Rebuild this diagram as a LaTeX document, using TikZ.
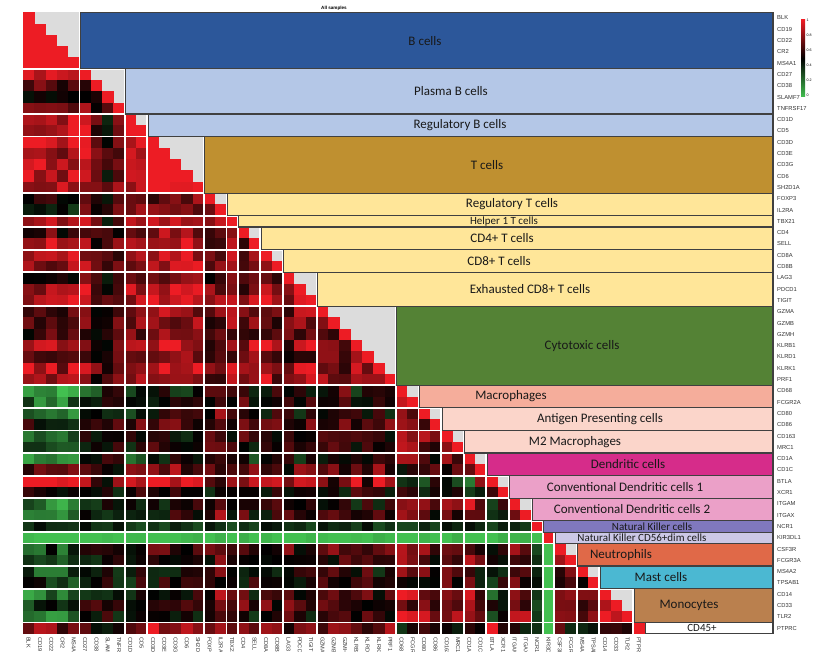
\documentclass[tikz,border=0pt]{standalone}
\usepackage{fontspec}
\setmainfont{Carlito}
\newfontfamily\arialfont{Liberation Sans}
\usetikzlibrary{positioning,calc}

\definecolor{hmred}{RGB}{237,28,36}
\definecolor{hmgreen}{RGB}{66,192,80}
\definecolor{hmgrey}{RGB}{220,220,220}
\definecolor{bcol}{RGB}{44,87,154}
\definecolor{pbcol}{RGB}{180,199,231}
\definecolor{tcol}{RGB}{191,144,48}
\definecolor{ycol}{RGB}{255,230,153}
\definecolor{cytcol}{RGB}{84,130,53}
\definecolor{maccol}{RGB}{245,173,155}
\definecolor{apccol}{RGB}{251,213,202}
\definecolor{dccol}{RGB}{214,44,138}
\definecolor{cdccol}{RGB}{235,160,200}
\definecolor{nkcol}{RGB}{128,120,190}
\definecolor{nkdcol}{RGB}{204,200,230}
\definecolor{neucol}{RGB}{224,105,72}
\definecolor{mastcol}{RGB}{75,184,210}
\definecolor{monocol}{RGB}{186,128,78}

\tikzstyle{glabel}=[anchor=west, inner sep=0pt, font=\arialfont\fontsize{5.8}{6}\selectfont, text=black!80]
\tikzstyle{blabel}=[anchor=west, rotate=-90, inner sep=0pt, font=\arialfont\fontsize{5.6}{6}\selectfont, text=black!80]
\tikzstyle{banner}=[draw=black!75, line width=1.1pt]
\tikzstyle{btext}=[inner sep=0pt, font=\fontsize{13}{14}\selectfont, text=black!90]
\tikzstyle{bsmall}=[font=\fontsize{11}{12}\selectfont]
\tikzstyle{sepline}=[white, line width=1.8pt]
\tikzstyle{legtext}=[anchor=west, inner sep=0pt, font=\arialfont\fontsize{3.6}{4}\selectfont]

% heatmap origin and cell size
\def\hmx{23}
\def\hmy{12.3}
\def\hmc{11.3}

% lymphoid and B/myeloid loadings per gene
\def\FA{{0.5,0.5,0.5,0.35,0.5, 0.55,0.2,0.1,0.3, 0.5,0.6, 0.65,0.65,0.65,0.6,0.6,
 0.3,0.4, 0.6, 0.35,0.55, 0.55,0.45, 0.3,0.55,0.6, 0.4,0.35,0.35,0.55,0.3,0.55,0.5,
 0,0.1, 0.05,0.25, 0.1,0.1, 0,0.3, 0.6,0.05, 0.05,0.1, 0,-0.3, 0.2,0.1, 0.05,0.05,
 0.1,0.25,0.1, 0.45}}
\def\FB{{0.55,0.55,0.5,0.6,0.55, 0.2,0.1,0,0.05, 0.2,0.1, 0.05,0.05,0.05,0.05,0.05,
 -0.1,-0.35, 0, -0.1,0.1, 0,0, -0.15,0.05,0.05, -0.1,-0.15,-0.15,0.05,-0.15,0.05,0,
 -0.7,-0.45, -0.4,-0.2, -0.45,-0.35, -0.55,-0.1, 0.3,0, -0.5,-0.4, -0.2,-0.6, -0.45,-0.4,
 -0.35,-0.2, -0.55,-0.35,-0.6, 0.05}}

\newcommand{\cellbanner}[7]{%
  \draw[banner, fill=#4] ({\hmx+#3*\hmc+1}, {\hmy+(#2-1)*\hmc}) rectangle (773, {\hmy+#3*\hmc});
  \node[btext, #7] (#1) at (#5, {\hmy+(#2+#3-1)*\hmc/2}) {#6};
}

\begin{document}
\begin{tikzpicture}[x=1pt, y=-1pt]
\useasboundingbox (0,0) rectangle (813,652);
\clip (0,0) rectangle (813,652);
\fill[white] (0,0) rectangle (813,652);

\node[font=\arialfont\bfseries\fontsize{4.6}{5}\selectfont, inner sep=0pt] (TITLE) at (334,8) {All samples};

\foreach \a/\b in {1/5, 6/9, 10/11, 12/16, 17/18, 19/19, 20/21, 22/23, 24/26, 27/33, 34/35,
  36/37, 38/39, 40/41, 42/43, 44/45, 46/46, 47/47, 48/49, 50/51, 52/54, 55/55}
  \fill[hmgrey] ({\hmx+(\a-1)*\hmc}, {\hmy+(\a-1)*\hmc}) rectangle ({\hmx+\b*\hmc}, {\hmy+\b*\hmc});

\pgfmathsetseed{11}
\foreach \i in {1,...,55}{
  \foreach \j in {1,...,\i}{
    \pgfmathsetmacro\hv{ifthenelse(\i==\j, 1,
      ifthenelse(or(\i==47,\j==47), 0.02+0.12*rnd,
      ifthenelse(or(\i==46,\j==46), 0.33+0.15*rnd,
      0.5+\FA[\i-1]*\FA[\j-1]+\FB[\i-1]*\FB[\j-1]+0.26*rnd-0.13)))}
    \pgfmathsetmacro\hv{max(0,min(1,\hv))}
    \pgfmathsetmacro\hp{min(100,abs(\hv-0.5)*250)}
    \ifdim\hv pt<0.5pt \colorlet{hmcell}{hmgreen!\hp!black}\else\colorlet{hmcell}{hmred!\hp!black}\fi
    \fill[hmcell] ({\hmx+(\j-1)*\hmc}, {\hmy+(\i-1)*\hmc}) rectangle +(\hmc+0.2, \hmc+0.2);
  }
}

\foreach \k/\p/\n in {5/0/9, 9/5/11, 11/9/16, 16/11/18, 18/16/19, 19/18/21, 21/19/23, 23/21/26,
  26/23/33, 33/26/35, 35/33/37, 37/35/39, 39/37/41, 41/39/43, 43/41/45, 45/43/46, 46/45/47,
  47/46/49, 49/47/51, 51/49/54, 54/51/55}{
  \draw[sepline] (\hmx, {\hmy+\k*\hmc}) -- ({\hmx+\n*\hmc}, {\hmy+\k*\hmc});
  \draw[sepline] ({\hmx+\k*\hmc}, {\hmy+\p*\hmc}) -- ({\hmx+\k*\hmc}, {\hmy+55*\hmc});
}

\cellbanner{BCELLS}{1}{5}{bcol}{425}{B cells}{}
\cellbanner{PLASMAB}{6}{9}{pbcol}{451}{Plasma B cells}{}
\cellbanner{REGB}{10}{11}{pbcol}{460}{Regulatory B cells}{}
\cellbanner{TCELLS}{12}{16}{tcol}{487}{T cells}{}
\cellbanner{TREG}{17}{18}{ycol}{512}{Regulatory T cells}{}
\cellbanner{THONE}{19}{19}{ycol}{504}{Helper 1 T cells}{bsmall}
\cellbanner{CDFOURT}{20}{21}{ycol}{502}{CD4+ T cells}{}
\cellbanner{CDEIGHTT}{22}{23}{ycol}{499}{CD8+ T cells}{}
\cellbanner{EXHT}{24}{26}{ycol}{530}{Exhausted CD8+ T cells}{}
\cellbanner{CYTO}{27}{33}{cytcol}{582}{Cytotoxic cells}{}
\cellbanner{MACRO}{34}{35}{maccol}{511}{Macrophages}{}
\cellbanner{APC}{36}{37}{apccol}{600}{Antigen Presenting cells}{}
\cellbanner{MTWO}{38}{39}{apccol}{575}{M2 Macrophages}{}
\cellbanner{DC}{40}{41}{dccol}{628}{Dendritic cells}{}
\cellbanner{CDCONE}{42}{43}{cdccol}{625}{Conventional Dendritic cells 1}{}
\cellbanner{CDCTWO}{44}{45}{cdccol}{632}{Conventional Dendritic cells 2}{}
\cellbanner{NK}{46}{46}{nkcol}{652}{Natural Killer cells}{bsmall}
\cellbanner{NKDIM}{47}{47}{nkdcol}{642}{Natural Killer CD56+dim cells}{bsmall}
\cellbanner{NEUTRO}{48}{49}{neucol}{621}{Neutrophils}{}
\cellbanner{MAST}{50}{51}{mastcol}{661}{Mast cells}{}
\cellbanner{MONO}{52}{54}{monocol}{689}{Monocytes}{}
\cellbanner{CDFF}{55}{55}{white}{702}{CD45+}{bsmall}

\foreach \g [count=\k] in {BLK,CD19,CD22,CR2,MS4A1,CD27,CD38,SLAMF7,TNFRSF17,CD1D,CD5,
  CD3D,CD3E,CD3G,CD6,SH2D1A,FOXP3,IL2RA,TBX21,CD4,SELL,CD8A,CD8B,LAG3,PDCD1,TIGIT,
  GZMA,GZMB,GZMH,KLRB1,KLRD1,KLRK1,PRF1,CD68,FCGR2A,CD80,CD86,CD163,MRC1,CD1A,CD1C,
  BTLA,XCR1,ITGAM,ITGAX,NCR1,KIR3DL1,CSF3R,FCGR3A,MS4A2,TPSAB1,CD14,CD33,TLR2,PTPRC}{
  \node[glabel] (R\k) at (777, {\hmy+(\k-0.5)*\hmc}) {\g};
  \node[blabel] (C\k) at ({\hmx+(\k-0.5)*\hmc}, 637) {\g};
}

\shade[top color=hmred, bottom color=hmgreen, middle color=black] (801,20) rectangle (805,97);
\foreach \t [count=\k] in {1,0.8,0.6,0.4,0.2,0}
  \node[legtext] (LEG\k) at (806.5, {20+(\k-1)*15}) {\t};

\end{tikzpicture}
\end{document}
